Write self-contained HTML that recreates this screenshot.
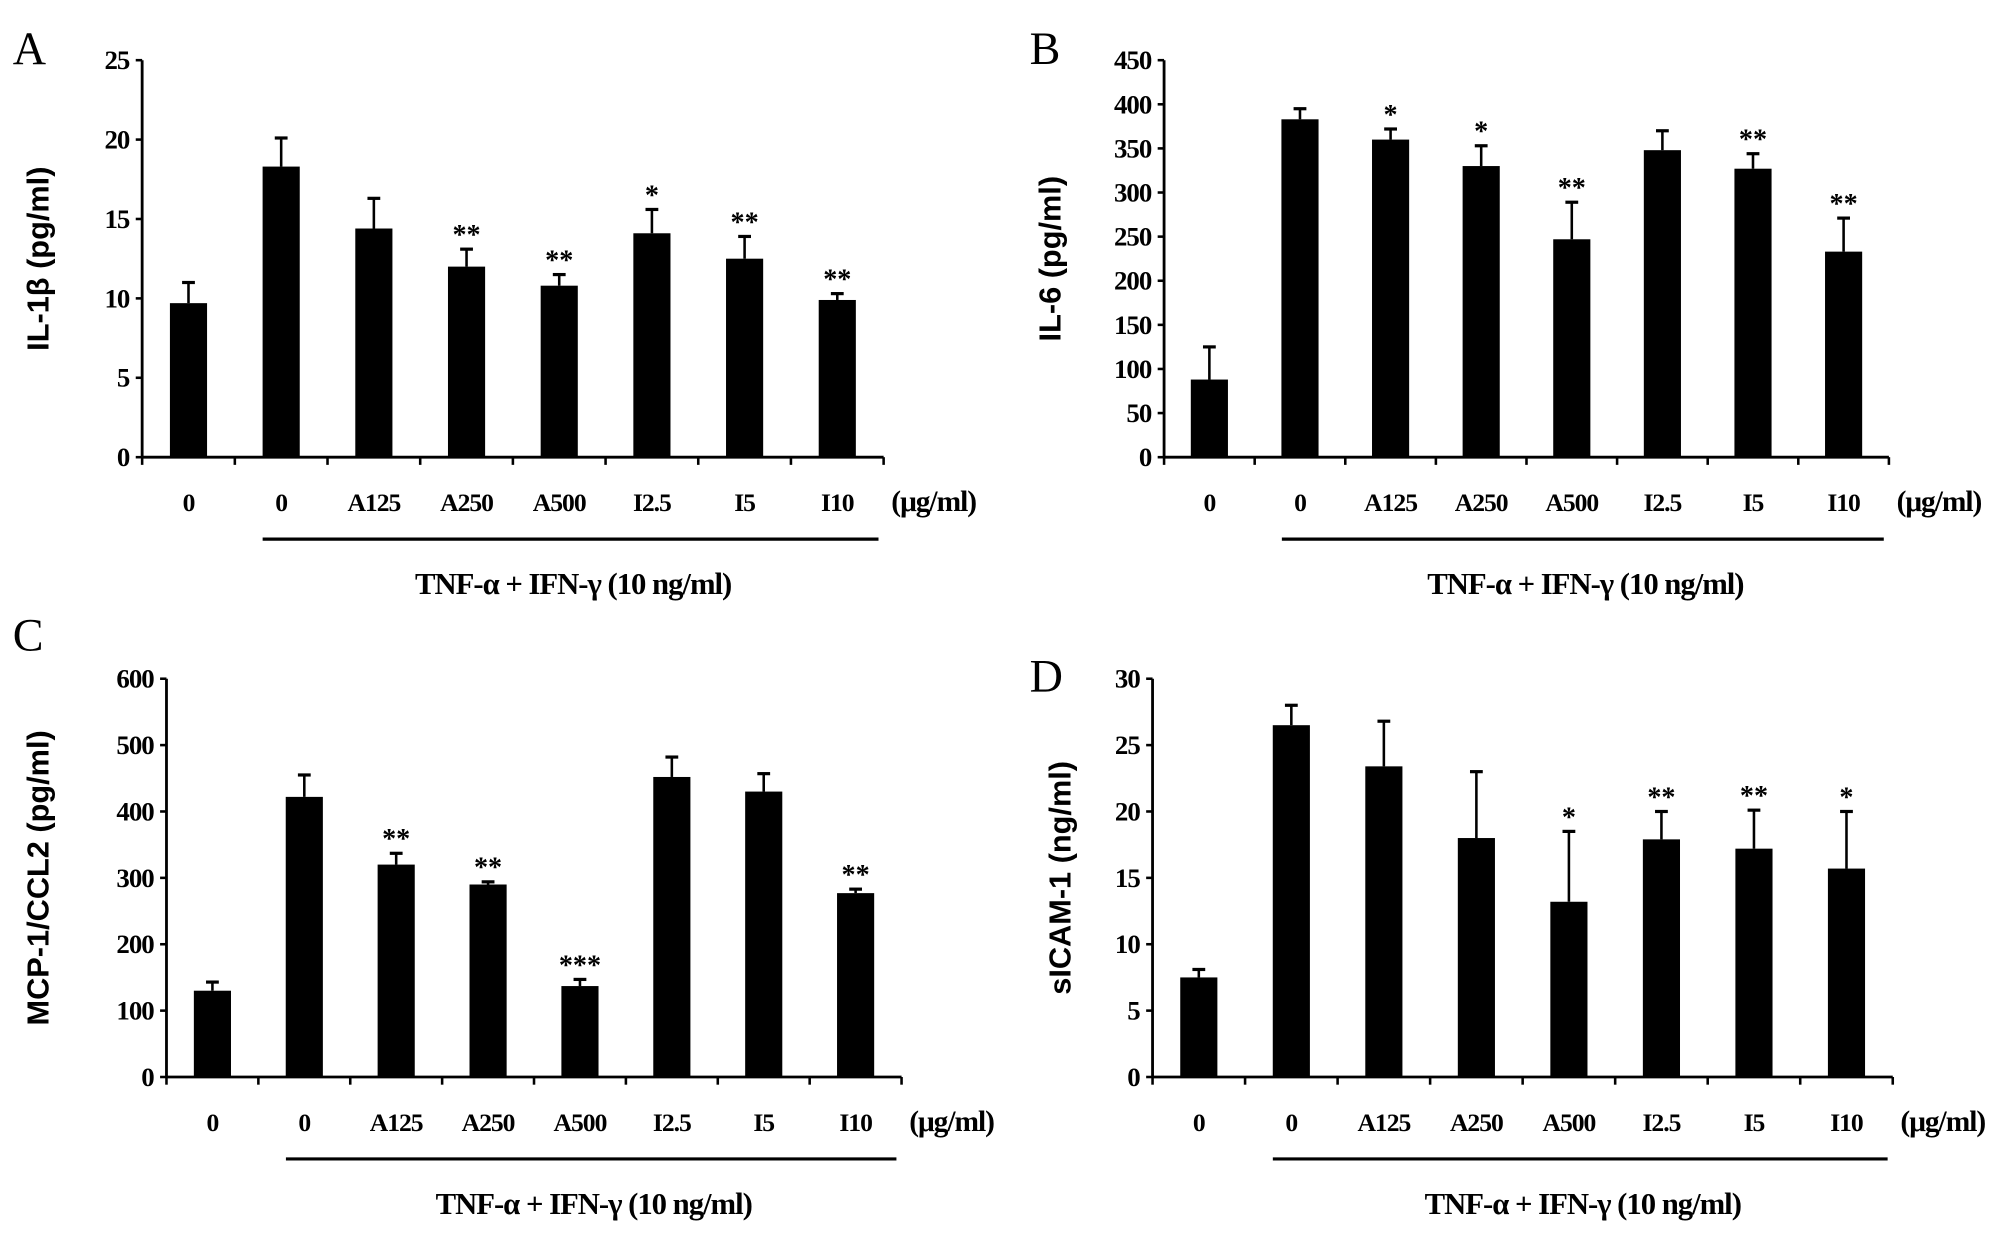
<!DOCTYPE html>
<html><head><meta charset="utf-8"><style>
html,body{margin:0;padding:0;background:#fff;}
svg{display:block;}
.tick{font-family:"Liberation Serif",serif;font-weight:bold;font-size:21px;letter-spacing:-0.8px;}
.cat{font-family:"Liberation Serif",serif;font-weight:bold;font-size:20px;letter-spacing:-0.8px;}
.ytitle{font-family:"Liberation Sans",sans-serif;font-weight:bold;font-size:24px;}
.letter{font-family:"Liberation Serif",serif;font-size:36px;}
.star{font-family:"Liberation Serif",serif;font-weight:bold;font-size:22px;}
</style></head><body>
<svg id="fig" width="2008" height="1239" viewBox="0 0 1568 967.5" preserveAspectRatio="none" xmlns="http://www.w3.org/2000/svg"></svg>
<script>
const categories = ["0","0","A125","A250","A500","I2.5","I5","I10"];
const valuesA = [9.7,18.3,14.4,12.0,10.8,14.1,12.5,9.9];
const errorsA = [11.0,20.1,16.3,13.1,11.5,15.6,13.9,10.3];
const starsA = ["","","","**","**","*","**","**"];
const ticksA = [0,5,10,15,20,25];
const valuesB = [88,383,360,330,247,348,327,233];
const errorsB = [125,395,372,353,289,370,344,271];
const starsB = ["","","*","*","**","","**","**"];
const ticksB = [0,50,100,150,200,250,300,350,400,450];
const valuesC = [130,422,320,290,137,452,430,277];
const errorsC = [143,455,337,294,147,482,457,283];
const starsC = ["","","**","**","***","","","**"];
const ticksC = [0,100,200,300,400,500,600];
const valuesD = [7.5,26.5,23.4,18.0,13.2,17.9,17.2,15.7];
const errorsD = [8.1,28.0,26.8,23.0,18.5,20.0,20.1,20.0];
const starsD = ["","","","","*","**","**","*"];
const ticksD = [0,5,10,15,20,25,30];

const NS="http://www.w3.org/2000/svg";
const svg=document.getElementById('fig');
function mk(tag,attrs,parent,text){const e=document.createElementNS(NS,tag);for(const k in attrs)e.setAttribute(k,attrs[k]);if(text!==undefined)e.textContent=text;(parent||svg).appendChild(e);return e;}

function panel(cfg){
  const g=mk('g',{});
  
  
  const max=cfg.ticks[cfg.ticks.length-1];
  const y=v=>cfg.y0-(v/max)*(cfg.y0-cfg.yTop);
  const step=(cfg.xEnd-cfg.x0)/categories.length;
  const xc=i=>cfg.x0+step*(i+0.5);
  const bw=29;
  const L=mk('text',{x:cfg.lx,y:cfg.ly,class:'letter'},g,cfg.id.toUpperCase());
  
  
  const ya=mk('line',{x1:cfg.x0,y1:cfg.yTop,x2:cfg.x0,y2:cfg.y0,stroke:'#000','stroke-width':2.2},g);
  
  
  const xa=mk('line',{x1:cfg.x0,y1:cfg.y0,x2:cfg.xEnd,y2:cfg.y0,stroke:'#000','stroke-width':2.2},g);
  
  
  cfg.ticks.forEach(t=>{
    mk('line',{x1:cfg.x0-5,y1:y(t),x2:cfg.x0,y2:y(t),stroke:'#000','stroke-width':2},g);
    const tl=mk('text',{x:cfg.x0-10,y:y(t)+7,class:'tick','text-anchor':'end'},g,String(t));
    
    
  });
  for(let i=0;i<=categories.length;i++){
    mk('line',{x1:cfg.x0+step*i,y1:cfg.y0,x2:cfg.x0+step*i,y2:cfg.y0+6,stroke:'#000','stroke-width':2},g);
  }
  categories.forEach((c,i)=>{
    const v=cfg.values[i],e=cfg.errors[i],cx=xc(i);
    const eb=mk('g',{},g);
    
    
    mk('line',{x1:cx,y1:y(v),x2:cx,y2:y(e),stroke:'#000','stroke-width':2},eb);
    mk('line',{x1:cx-5,y1:y(e),x2:cx+5,y2:y(e),stroke:'#000','stroke-width':2.5},eb);
    const b=mk('rect',{x:cx-bw/2,y:y(v),width:bw,height:cfg.y0-y(v),fill:'#000'},g);
    
    
    if(cfg.stars[i]){
      const s=mk('text',{x:cx,y:y(e)-4,class:'star','text-anchor':'middle'},g,cfg.stars[i]);
      
      
    }
    const cl=mk('text',{x:cx,y:cfg.y0+42,class:'cat','text-anchor':'middle'},g,c);
    
    
  });
  const u=mk('text',{x:cfg.xEnd+6,y:cfg.y0+42,class:'cat',style:'font-size:23px'},g,'(μg/ml)');
  
  
  const bl=mk('line',{x1:cfg.x0+step*1.3,y1:cfg.y0+64,x2:cfg.xEnd-4,y2:cfg.y0+64,stroke:'#000','stroke-width':2.5},g);
  
  
  const tt=mk('text',{x:(cfg.x0+step*1.3+cfg.xEnd)/2,y:cfg.y0+107,class:'cat','text-anchor':'middle',style:'font-size:24px'},g,'TNF-α  +  IFN-γ (10 ng/ml)');
  
  
  const yt=mk('text',{x:0,y:0,class:'ytitle','text-anchor':'middle',transform:`translate(${cfg.tx},${(cfg.yTop+cfg.y0)/2}) rotate(-90)`},g,cfg.title);
  
  
}

panel({id:'a',x0:111,xEnd:690,yTop:47,y0:357,values:valuesA,errors:errorsA,stars:starsA,ticks:ticksA,title:'IL-1β (pg/ml)',lx:10,ly:50,tx:38});
panel({id:'b',x0:909,xEnd:1475,yTop:47,y0:357,values:valuesB,errors:errorsB,stars:starsB,ticks:ticksB,title:'IL-6 (pg/ml)',lx:804,ly:50,tx:828});
panel({id:'c',x0:130,xEnd:704,yTop:530,y0:841,values:valuesC,errors:errorsC,stars:starsC,ticks:ticksC,title:'MCP-1/CCL2 (pg/ml)',lx:10,ly:508,tx:38});
panel({id:'d',x0:900,xEnd:1478,yTop:530,y0:841,values:valuesD,errors:errorsD,stars:starsD,ticks:ticksD,title:'sICAM-1 (ng/ml)',lx:804,ly:540,tx:836});
</script>
</body></html>
